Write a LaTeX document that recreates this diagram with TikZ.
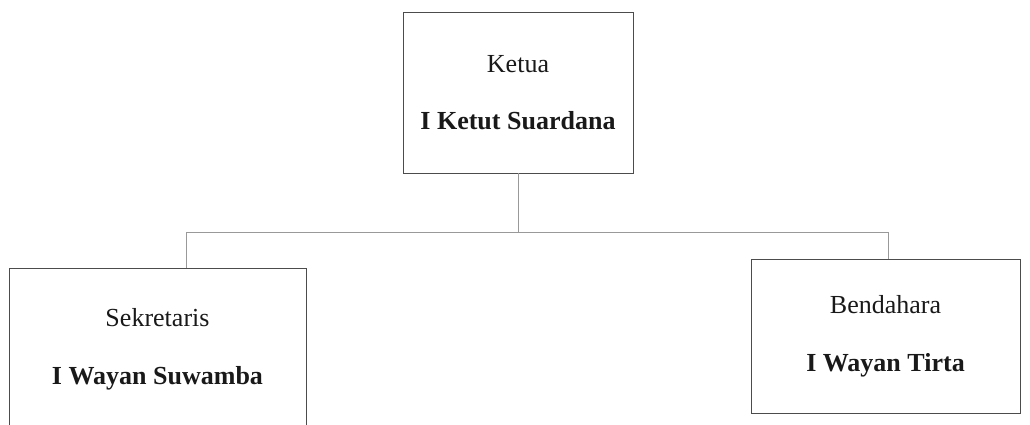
\documentclass[tikz,border=0pt]{standalone}
\usepackage{fontspec}
\setmainfont{Liberation Serif}
\usetikzlibrary{positioning}
\tikzstyle{jabatan} = [rectangle, draw=black!70, line width=0.6pt, align=center, inner sep=0pt, font=\fontsize{18.5}{21}\selectfont, text=black!90]
\tikzstyle{garis} = [draw=black!40, line width=0.5pt]

\begin{document}
\begin{tikzpicture}[x=0.025cm, y=-0.025cm]
\useasboundingbox (0,0) rectangle (1030,424);

%Ketua
\node[jabatan, minimum width=5.75cm, minimum height=4.025cm] (ketua) at (518,92.5) {Ketua\\[20pt]\textbf{I Ketut Suardana}};

%Sekretaris
\node[jabatan, minimum width=7.425cm, minimum height=4.05cm] (sekretaris) at (157.5,349) {Sekretaris\\[20pt]\textbf{I Wayan Suwamba}};

%Bendahara
\node[jabatan, minimum width=6.725cm, minimum height=3.85cm] (bendahara) at (885.5,336) {Bendahara\\[20pt]\textbf{I Wayan Tirta}};

%garis
\coordinate (kiri) at (186,232);
\coordinate (kanan) at (888,232);
\draw[garis] (ketua.south) -- (ketua.south |- kiri);
\draw[garis] (kiri) -- (kanan);
\draw[garis] (kiri) -- (kiri |- sekretaris.north);
\draw[garis] (kanan) -- (kanan |- bendahara.north);

\end{tikzpicture}
\end{document}
